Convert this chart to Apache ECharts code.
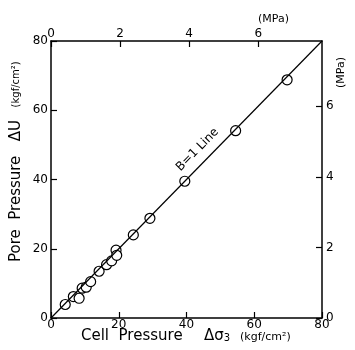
<!DOCTYPE html>
<html><head><meta charset="utf-8">
<script src="https://cdn.jsdelivr.net/npm/echarts@6/dist/echarts.min.js"></script>
<style>html,body{margin:0;padding:0;background:#fff}#c{width:355px;height:350px}</style>
</head><body><div id="c"></div>
<script>
// Data (kgf/cm²)
var cellPressure = [4.2, 6.6, 8.3, 9.2, 10.4, 11.7, 14.2, 16.4, 17.9, 19.2, 19.4, 24.3, 29.2, 39.5, 54.5, 69.7];
var porePressure = [3.9, 6.2, 5.7, 8.6, 8.9, 10.5, 13.5, 15.4, 16.5, 19.6, 18.1, 24.0, 28.8, 39.5, 54.1, 68.8];
var lineEnds = [0, 80];          // B = 1 line, from origin to 80
var kgfTicks = [0, 20, 40, 60, 80];
var mpaTicks = [0, 2, 4, 6];
var KGF_PER_MPA = 10.19716;
var FONT = 'DejaVu Sans';

var points = cellPressure.map(function (x, i) { return [x, porePressure[i]]; });
var kgfMax = kgfTicks[kgfTicks.length - 1];
var mpaMax = kgfMax / KGF_PER_MPA;

function axisBase(extra) {
  var a = {
    type: 'value',
    axisLine: { show: true, onZero: false, lineStyle: { color: '#000', width: 1.5 } },
    axisTick: { show: true, inside: true, length: 6, lineStyle: { color: '#000', width: 1.2 } },
    axisLabel: { color: '#000', fontSize: 12, fontFamily: FONT, margin: 3 },
    splitLine: { show: false }
  };
  for (var k in extra) a[k] = extra[k];
  return a;
}
function mpaFmt(v) { return mpaTicks.indexOf(v) >= 0 ? String(v) : ''; }

var chart = echarts.init(document.getElementById('c'), null, { renderer: 'canvas' });
chart.setOption({
  backgroundColor: '#fff',
  animation: false,
  grid: { left: 51, right: 33, top: 41, bottom: 32 },
  xAxis: [
    axisBase({ position: 'bottom', min: kgfTicks[0], max: kgfMax, interval: kgfTicks[1] - kgfTicks[0],
      axisLabel: { color: '#000', fontSize: 12, fontFamily: FONT, margin: 1 } }),
    axisBase({ position: 'top', min: mpaTicks[0], max: mpaMax, interval: mpaTicks[1] - mpaTicks[0],
      axisLabel: { color: '#000', fontSize: 12, fontFamily: FONT, margin: 1, showMaxLabel: false, formatter: mpaFmt } })
  ],
  yAxis: [
    axisBase({ position: 'left', min: kgfTicks[0], max: kgfMax, interval: kgfTicks[1] - kgfTicks[0] }),
    axisBase({ position: 'right', min: mpaTicks[0], max: mpaMax, interval: mpaTicks[1] - mpaTicks[0],
      axisLabel: { color: '#000', fontSize: 12, fontFamily: FONT, margin: 4, showMaxLabel: false, formatter: mpaFmt } })
  ],
  series: [
    {
      type: 'line', xAxisIndex: 0, yAxisIndex: 0, z: 1,
      data: [], silent: true,
      markLine: {
        silent: true, symbol: ['none', 'none'], animation: false,
        lineStyle: { color: '#000', width: 1.2, type: 'solid' },
        label: { show: true, position: 'insideMiddleTop', distance: 7, formatter: 'B=1 Line',
          color: '#000', fontSize: 12, fontFamily: FONT, padding: [0, 0, 0, 58] },
        data: [[{ coord: [lineEnds[0], lineEnds[0]] }, { coord: [lineEnds[1], lineEnds[1]] }]]
      }
    },
    {
      type: 'scatter', xAxisIndex: 0, yAxisIndex: 0, z: 3,
      symbol: 'circle', symbolSize: 10,
      itemStyle: { color: '#fff', borderColor: '#000', borderWidth: 1.2, opacity: 1 },
      data: points
    }
  ],
  graphic: [
    { type: 'text', left: 81, top: 329, style: { text: 'Cell  Pressure', fontSize: 15, fontFamily: FONT, fill: '#000' } },
    { type: 'text', left: 204, top: 329, style: {
      rich: {
        a: { fontSize: 15, fontFamily: FONT, fill: '#000' },
        s: { fontSize: 10, fontFamily: FONT, fill: '#000', padding: [4, 0, 0, 0] }
      },
      text: '{a|Δσ}{s|3}'
    } },
    { type: 'text', left: 240, top: 332, style: { text: '(kgf/cm²)', fontSize: 11, fontFamily: FONT, fill: '#000' } },
    { type: 'text', x: 16, y: 262, rotation: Math.PI / 2, style: {
      rich: {
        a: { fontSize: 15, fontFamily: FONT, fill: '#000' },
        u: { fontSize: 10, fontFamily: FONT, fill: '#000' }
      },
      text: '{a|Pore  Pressure   ΔU}{u|    (kgf/cm²)}', verticalAlign: 'middle'
    } },
    { type: 'text', left: 258, top: 14, style: { text: '(MPa)', fontSize: 11, fontFamily: FONT, fill: '#000' } },
    { type: 'text', x: 341, y: 88, rotation: Math.PI / 2, style: { text: '(MPa)', fontSize: 11, fontFamily: FONT, fill: '#000', verticalAlign: 'middle' } }
  ]
});
</script></body></html>
